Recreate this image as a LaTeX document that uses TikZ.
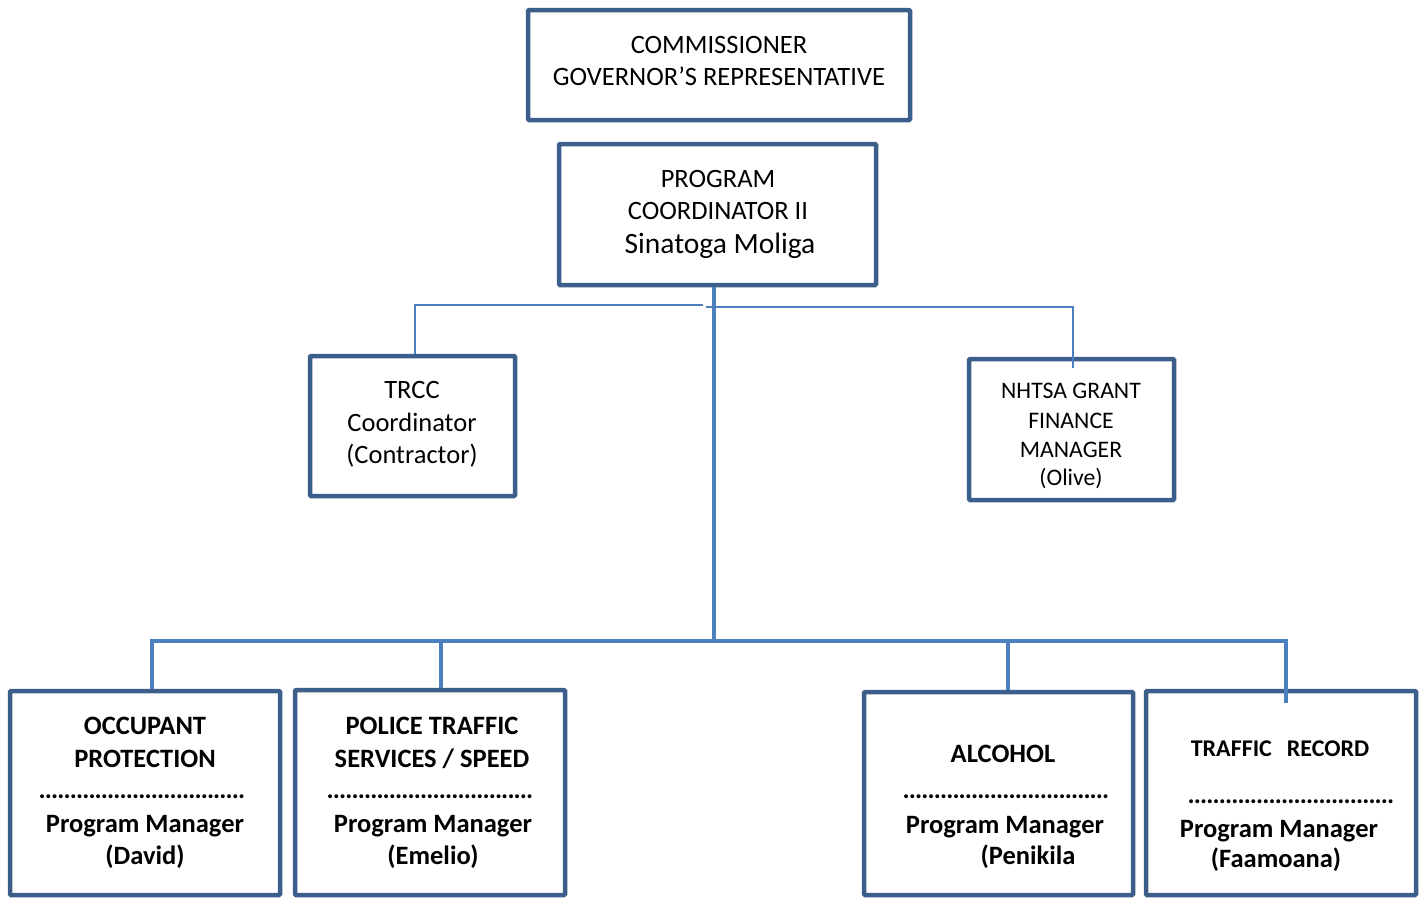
\documentclass[tikz,border=0pt]{standalone}
\usepackage{fontspec}
\setmainfont{Carlito}
\definecolor{boxblue}{RGB}{60,94,138}
\definecolor{lineblue}{RGB}{76,128,190}
\newcommand{\regf}{\fontsize{26.5}{33}\selectfont}
\newcommand{\bigf}{\fontsize{29.5}{35}\selectfont}
\newcommand{\smallf}{\fontsize{23.7}{29}\selectfont}
\newcommand{\boldf}{\fontsize{26.5}{33}\selectfont\bfseries}
\newcommand{\dotrow}{\hbox to 212pt{\leaders\hbox to 6.24pt{\hss.\hss}\hfill}}
\begin{document}
\begin{tikzpicture}[x=1pt,y=-1pt,
  box/.style={draw=boxblue,line width=4.5pt,rectangle,inner sep=0pt,rounded corners=1pt},
  txt/.style={anchor=base,inner sep=0pt},
  thickconn/.style={draw=lineblue,line width=4pt},
  thinconn/.style={draw=lineblue,line width=2pt}]
\useasboundingbox (0,0) rectangle (1426,898);
% boxes
\node[box,minimum width=382pt,minimum height=110pt] (comm) at (719,65) {};
\node[box,minimum width=317pt,minimum height=141pt] (coord) at (717.5,214.5) {};
\node[box,minimum width=205pt,minimum height=140pt] (trcc) at (412.5,426) {};
\node[box,minimum width=205pt,minimum height=141pt] (nhtsa) at (1071.5,429.5) {};
\node[box,minimum width=270pt,minimum height=204pt] (occ) at (145,793) {};
\node[box,minimum width=270pt,minimum height=205pt] (pol) at (430,792.5) {};
\node[box,minimum width=269pt,minimum height=203pt] (alc) at (998.5,793.5) {};
\node[box,minimum width=270pt,minimum height=204pt] (trf) at (1281,793) {};
% texts
\node[txt,font=\regf] (t1a) at (719,53) {COMMISSIONER};
\node[txt,font=\regf] (t1b) at (719,85) {GOVERNOR’S REPRESENTATIVE};
\node[txt,font=\regf] (t2a) at (718,187) {PROGRAM};
\node[txt,font=\regf] (t2b) at (718,219) {COORDINATOR II};
\node[txt,font=\bigf] (t2c) at (720,253) {Sinatoga Moliga};
\node[txt,font=\regf] (t3a) at (412,398) {TRCC};
\node[txt,font=\regf] (t3b) at (412,431) {Coordinator};
\node[txt,font=\regf] (t3c) at (412,463) {(Contractor)};
\node[txt,font=\smallf] (t4a) at (1071,398) {NHTSA GRANT};
\node[txt,font=\smallf] (t4b) at (1071,428) {FINANCE};
\node[txt,font=\smallf] (t4c) at (1071,457) {MANAGER};
\node[txt,font=\smallf] (t4d) at (1071,485) {(Olive)};
% occupant
\node[txt,font=\boldf] (t5a) at (145,734) {OCCUPANT};
\node[txt,font=\boldf] (t5b) at (145,767) {PROTECTION};
\node[txt,font=\boldf] (t5c) at (145,798) {\dotrow};
\node[txt,font=\boldf] (t5d) at (145,832) {Program Manager};
\node[txt,font=\boldf] (t5e) at (145,864) {(David)};
% police
\node[txt,font=\boldf] (t6a) at (432,734) {POLICE TRAFFIC};
\node[txt,font=\boldf] (t6b) at (432,767) {SERVICES / SPEED};
\node[txt,font=\boldf] (t6c) at (433,798) {\dotrow};
\node[txt,font=\boldf] (t6d) at (433,832) {Program Manager};
\node[txt,font=\boldf] (t6e) at (433,864) {(Emelio)};
% alcohol
\node[txt,font=\boldf] (t7a) at (1003,762) {ALCOHOL};
\node[txt,font=\boldf] (t7c) at (1009,798) {\dotrow};
\node[txt,font=\boldf] (t7d) at (1005,833) {Program Manager};
\node[txt,font=\boldf] (t7e) at (1028,864) {(Penikila};
% traffic record
\node[txt,font=\boldf\fontsize{24}{29}\selectfont] (t8a) at (1280,756) {TRAFFIC\hspace{15pt}RECORD};
\node[txt,font=\boldf] (t8c) at (1294,803) {\dotrow};
\node[txt,font=\boldf] (t8d) at (1279,837) {Program Manager};
\node[txt,font=\boldf] (t8e) at (1276,867) {(Faamoana)};
% connectors
\coordinate (jl) at (703,304.5);
\coordinate (jr) at (706,306.5);
\coordinate (bus) at (714,641);
\coordinate (busr) at (1286,641);
\draw[thinconn] ([xshift=2.5pt]trcc.north) |- (jl);
\draw[thinconn] (jr) -| ([xshift=1.5pt,yshift=-11pt]nhtsa.north);
\draw[thickconn] ([xshift=-3.5pt]coord.south) -- (bus);
\draw[thickconn] ([xshift=7pt]occ.north) |- (busr) -- ([xshift=5pt,yshift=-14pt]trf.north);
\draw[thickconn] ([xshift=11pt]pol.north) -- ([xshift=11pt]pol.north |- bus);
\draw[thickconn] ([xshift=9.5pt]alc.north) -- ([xshift=9.5pt]alc.north |- bus);
\end{tikzpicture}
\end{document}
